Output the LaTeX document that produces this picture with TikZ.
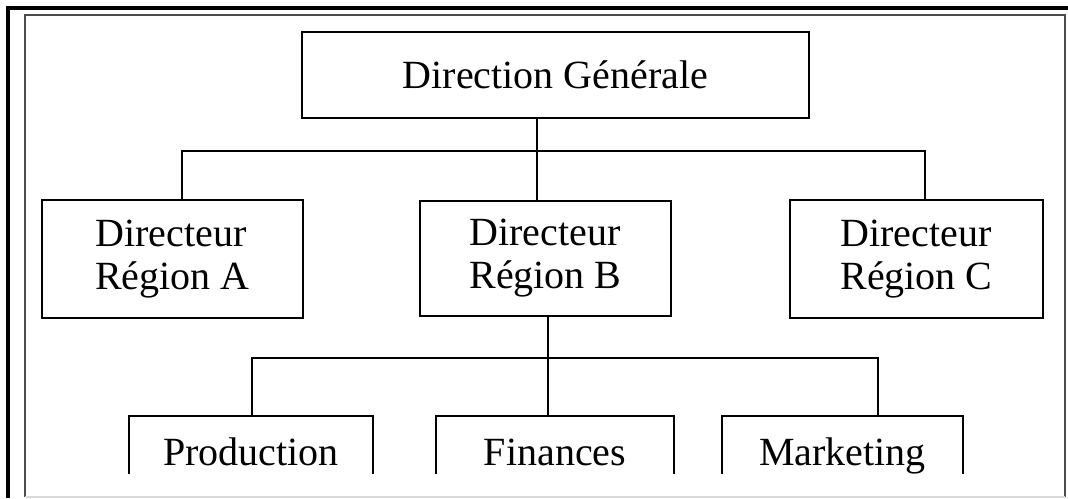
\documentclass[tikz,border=0pt]{standalone}
\usepackage{fontspec}
\setmainfont{Liberation Serif}
\usepackage{tikz}
\usetikzlibrary{positioning}

\begin{document}
\begin{tikzpicture}[x = 0.5pt, y = -0.5pt, line width = 1pt,
    txt/.style = {font = \fontsize{20}{21.5}\selectfont, align = left, inner sep = 0pt},
    box/.style = {txt, draw},
    open/.style = {txt, minimum height = 28pt, text height = 20pt, text depth = 0pt}]
                \useasboundingbox (0,0) rectangle (1068,498);
                \draw[line width = 1.6pt] (8,498) -- (8,8) -- (1068,8);
                \draw[black!70, line width = 0.8pt] (25,497) -- (25,15) -- (1065,15) -- (1065,497);
                \draw[black!15, line width = 0.8pt] (25,497) -- (1065,497);

                \node[box, minimum width = 253.5pt, minimum height = 43pt] at (555.5,75) (DG) {Direction Générale};
                \node[box, minimum width = 130.5pt, minimum height = 59pt] at (172.5,259) (RA) {Directeur\\Région A};
                \node[box, minimum width = 125.5pt, minimum height = 57.5pt] at (545.5,258.5) (RB) {Directeur\\Région B};
                \node[box, minimum width = 126.5pt, minimum height = 59pt] at (916.5,259) (RC) {Directeur\\Région C};
                \node[open, minimum width = 121pt] at (251,445) (P) {Production};
                \node[open, minimum width = 118pt] at (555,445) (F) {Finances};
                \node[open, minimum width = 119.5pt] at (842.5,445) (M) {Marketing};

                \coordinate (ba) at (182,151);
                \coordinate (bb) at (537,151);
                \coordinate (bc) at (925,151);
                \coordinate (bp) at (252,358);
                \coordinate (bf) at (548,358);
                \coordinate (bm) at (878,358);

                \draw (DG.south -| bb) -- (bb |- RB.north);
                \draw (ba |- RA.north) -- (ba) -- (bc) -- (bc |- RC.north);
                \draw (RB.south -| bf) -- (bf |- F.north);
                \draw (bp |- P.north) -- (bp) -- (bm) -- (bm |- M.north);

                \draw (P.south west) -- (P.north west) -- (P.north east) -- (P.south east);
                \draw (F.south west) -- (F.north west) -- (F.north east) -- (F.south east);
                \draw (M.south west) -- (M.north west) -- (M.north east) -- (M.south east);
            \end{tikzpicture}
\end{document}
